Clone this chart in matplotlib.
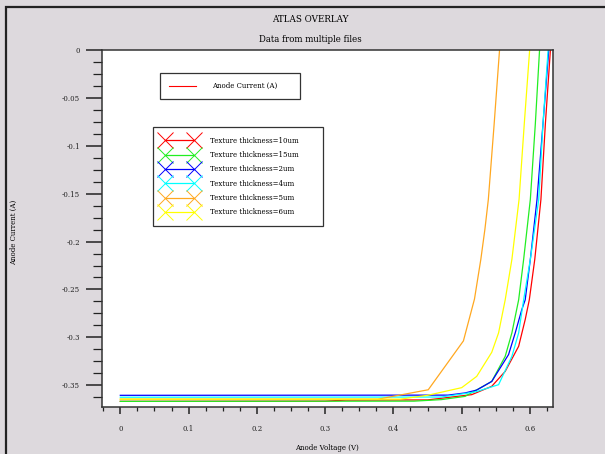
import numpy as np
import matplotlib.pyplot as plt
from matplotlib.lines import Line2D
from matplotlib.patches import Rectangle
from matplotlib.ticker import MultipleLocator

v_10um = [0.0, 0.30, 0.33, 0.45, 0.5147, 0.544, 0.5637, 0.5834, 0.593, 0.599, 0.607, 0.616, 0.6225, 0.6299]
i_10um = [-0.3668, -0.3666, -0.3655, -0.3653, -0.3598, -0.3511, -0.3355, -0.3093, -0.2814, -0.2608, -0.2186, -0.156, -0.0774, 0.0]

v_15um = [0.0, 0.43, 0.47, 0.505, 0.544, 0.5637, 0.5735, 0.5834, 0.5907, 0.6005, 0.6078, 0.614]
i_15um = [-0.3668, -0.3666, -0.3650, -0.3616, -0.346, -0.3198, -0.2953, -0.2608, -0.2186, -0.156, -0.0774, 0.0]

v_2um = [0.0, 0.48, 0.505, 0.522, 0.544, 0.5686, 0.5784, 0.588, 0.593, 0.6005, 0.6103, 0.619, 0.6275]
i_2um = [-0.3605, -0.3603, -0.358, -0.355, -0.346, -0.318, -0.2953, -0.271, -0.2608, -0.2186, -0.156, -0.0774, 0.0]

v_4um = [0.0, 0.47, 0.52, 0.554, 0.5735, 0.5834, 0.5907, 0.6005, 0.6128, 0.619, 0.6265]
i_4um = [-0.3625, -0.3623, -0.357, -0.3494, -0.3198, -0.2953, -0.2608, -0.2186, -0.156, -0.0774, 0.0]

v_5um = [0.0, 0.3775, 0.451, 0.5025, 0.5187, 0.528, 0.534, 0.539, 0.5475, 0.5554]
i_5um = [-0.3645, -0.3645, -0.3547, -0.3037, -0.260, -0.2186, -0.187, -0.156, -0.0774, 0.0]

v_6um = [0.0, 0.41, 0.45, 0.50, 0.522, 0.544, 0.554, 0.5637, 0.5735, 0.584, 0.5916, 0.5995]
i_6um = [-0.3645, -0.3645, -0.3605, -0.3525, -0.3407, -0.3156, -0.2953, -0.2608, -0.2186, -0.156, -0.0774, 0.0]

labels = ["Texture thickness=10um", "Texture thickness=15um", "Texture thickness=2um",
          "Texture thickness=4um", "Texture thickness=5um", "Texture thickness=6um"]
colors = ["#ff0000", "#22ee22", "#0000ff", "#00ffff", "#ffa820", "#ffff00"]

plt.rcParams['font.family'] = ['DejaVu Serif']
bg = '#ddd9dd'
fig = plt.figure(figsize=(6.05, 4.54), dpi=100, facecolor=bg)
ax = fig.add_axes([102 / 605, 1 - 407 / 454, 451 / 605, 357 / 454])

curves = [(v_10um, i_10um), (v_15um, i_15um), (v_2um, i_2um),
          (v_4um, i_4um), (v_5um, i_5um), (v_6um, i_6um)]
for (v, i), c in zip(curves, colors):
    ax.plot(v, i, color=c, lw=0.9)

ax.set_xlim(-0.0268, 0.6337)
ax.set_ylim(-0.3727, 0.0)

ax.xaxis.set_major_locator(MultipleLocator(0.1))
ax.xaxis.set_minor_locator(MultipleLocator(0.025))
ax.yaxis.set_major_locator(MultipleLocator(0.05))
ax.yaxis.set_minor_locator(MultipleLocator(0.0125))
ax.xaxis.set_major_formatter(plt.FuncFormatter(lambda x, p: '0' if abs(x) < 1e-9 else f'{x:g}'))
ax.yaxis.set_major_formatter(plt.FuncFormatter(lambda y, p: '0' if abs(y) < 1e-9 else f'{y:g}'))

ax.tick_params(axis='y', which='major', direction='out', length=11.5, width=1.1,
               pad=4.3, labelsize=5, colors='#222222')
ax.tick_params(axis='y', which='minor', direction='out', length=6.3, width=0.9, colors='#222222')
ax.tick_params(axis='x', which='major', direction='out', length=5.3, width=1.1,
               pad=7.5, labelsize=5, colors='#222222')
ax.tick_params(axis='x', which='minor', direction='out', length=2.9, width=0.9, colors='#222222')
for s in ax.spines.values():
    s.set_color('#333333')
    s.set_linewidth(1.1)

# legends
top1 = 1 - 23 / 357
leg1 = ax.legend([Line2D([], [], color='#ff0000', lw=0.8)], ["Anode Current (A)"],
                 loc='upper left', bbox_to_anchor=(58 / 451, top1 - 0.01, 140 / 451, 0.01),
                 mode='expand', borderaxespad=0, fontsize=5, handlelength=3.9,
                 handletextpad=2.3, borderpad=1.3, fancybox=False, framealpha=1,
                 edgecolor='#333333')
leg1.get_frame().set_linewidth(0.9)
ax.add_artist(leg1)

handles = [Line2D([], [], color=c, lw=0.9, marker='x', markersize=11, markeredgewidth=0.7)
           for c in colors]
top2 = 1 - 77 / 357
leg2 = ax.legend(handles, labels, loc='upper left',
                 bbox_to_anchor=(51 / 451, top2 - 0.01, 170 / 451, 0.01), mode='expand',
                 borderaxespad=0, fontsize=5, numpoints=2, handlelength=4.8,
                 handletextpad=2.0, labelspacing=0.91, borderpad=1.4, fancybox=False,
                 framealpha=1, edgecolor='#333333')
leg2.get_frame().set_linewidth(0.9)

fig.text(310 / 605, 1 - 20 / 454, "ATLAS OVERLAY", ha='center', va='center', fontsize=6.3)
fig.text(310 / 605, 1 - 40 / 454, "Data from multiple files", ha='center', va='center', fontsize=6.2)
fig.text(327 / 605, 1.5 / 454, "Anode Voltage (V)", ha='center', va='bottom', fontsize=5)
fig.text(14 / 605, 1 - 232 / 454, "Anode Current (A)", ha='center', va='center',
         rotation=90, fontsize=5)

# window border on top/left
fig.patches.append(Rectangle((5.5 / 605, -0.1), 1.2, (454 - 7) / 454 + 0.1,
                             transform=fig.transFigure, fill=False, edgecolor='#222222',
                             lw=1.6, zorder=0))

fig.savefig('out.png', dpi=100, facecolor=bg)
